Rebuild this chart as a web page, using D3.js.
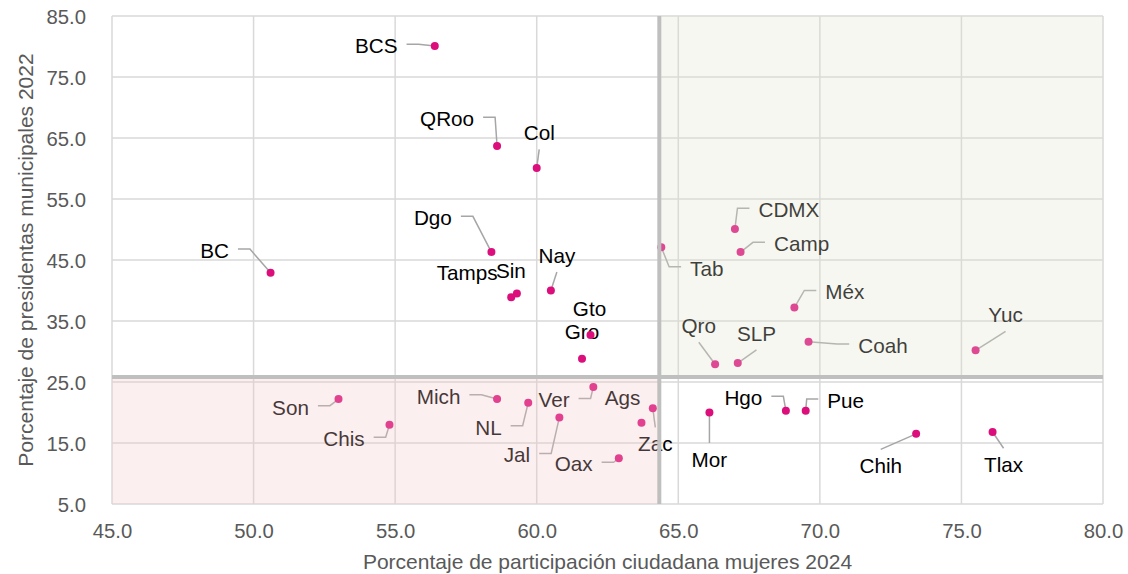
<!DOCTYPE html>
<html>
<head>
<meta charset="utf-8">
<script src="https://cdn.jsdelivr.net/npm/d3@7"></script>
<style>
  html, body { margin: 0; padding: 0; background: #ffffff; }
  svg { display: block; font-family: "Liberation Sans", Arial, sans-serif; }
</style>
</head>
<body>
<svg id="chart" width="1128" height="574"></svg>
<script>
// State abbreviations
const states = ["BCS","QRoo","Col","BC","Dgo","Tamps","Sin","Nay","Gto","Gro",
  "Tab","CDMX","Camp","Méx","Qro","SLP","Coah","Yuc","Son","Chis",
  "Mich","NL","Jal","Ver","Ags","Zac","Oax","Mor","Hgo","Pue","Chih","Tlax"];
// Women's turnout 2024 (%)
const participacion = [56.4,58.6,60.0,50.6,58.4,59.1,59.3,60.5,61.9,61.6,
  64.4,67.0,67.2,69.1,66.3,67.1,69.6,75.5,53.0,54.8,
  58.6,59.7,60.8,62.0,63.7,64.1,62.9,66.1,68.8,69.5,73.4,76.1];
// Share of women municipal presidents 2022 (%)
const presidentas = [80.1,63.7,60.1,42.9,46.3,38.9,39.5,40.0,32.7,28.8,
  47.1,50.1,46.3,37.2,27.9,28.1,31.6,30.2,22.2,18.0,
  22.2,21.6,19.2,24.2,18.3,20.7,12.5,20.0,20.3,20.3,16.5,16.8];
// Reference values dividing the quadrants
const refX = 64.33;
const refY = 25.8;
const xTicks = [45,50,55,60,65,70,75,80];
const yTicks = [5,15,25,35,45,55,65,75,85];

// Label placement: offset of label centre from its point (px) and leader style
const labelLayout = {
  "BCS":[-58.5,0,"h"], "QRoo":[-50,-27,"h"], "Col":[2.5,-35,"v"], "BC":[-56,-22,"h"],
  "Dgo":[-58.5,-34,"h"], "Tamps":[-44,-24,null], "Sin":[-6,-22.6,null], "Nay":[6,-35,"v"],
  "Gto":[-1,-26,null], "Gro":[0,-27,null], "Tab":[45.5,21.3,"h"], "CDMX":[54,-19,"h"],
  "Camp":[61,-8,"h"], "Méx":[50.5,-15.4,"h"], "Qro":[-16.3,-38.6,"v"], "SLP":[18.7,-29.7,"v"],
  "Coah":[74.4,4,"h"], "Yuc":[30,-35.3,"v"], "Son":[-48,8.3,"h"], "Chis":[-45.5,14.3,"h"],
  "Mich":[-58.5,-2.6,"h"], "NL":[-39.8,24.6,"h"], "Jal":[-42.4,37.7,"h"], "Ver":[-39.3,13.3,"h"],
  "Ags":[-19,-25.4,null], "Zac":[2.5,35.7,"v"], "Oax":[-45.2,5.7,"h"], "Mor":[0,47,"v"],
  "Hgo":[-42.5,-12.7,"h"], "Pue":[40,-10,"h"], "Chih":[-35.4,32,"v"], "Tlax":[11,32.7,"v"]
};

const data = states.map((s, i) => ({ name: s, x: participacion[i], y: presidentas[i] }));

const svg = d3.select("#chart");
const plotL = 112, plotR = 1103, plotT = 16, plotB = 504;
const x = d3.scaleLinear().domain([45, 80]).range([plotL, plotR]);
const y = d3.scaleLinear().domain([5, 85]).range([plotB, plotT]);

const gridColor = "#d9d9d9";
const tickColor = "#595959";

// Gridlines (the outer ones form the plot frame)
svg.append("g").selectAll("line").data(xTicks).join("line")
  .attr("x1", d => x(d)).attr("x2", d => x(d))
  .attr("y1", plotT).attr("y2", plotB)
  .attr("stroke", gridColor).attr("stroke-width", 1.5);
svg.append("g").selectAll("line").data(yTicks).join("line")
  .attr("y1", d => y(d)).attr("y2", d => y(d))
  .attr("x1", plotL).attr("x2", plotR)
  .attr("stroke", gridColor).attr("stroke-width", 1.5);

// Tick labels via d3 axes (domain and tick marks hidden)
const xAxis = svg.append("g").attr("transform", `translate(0,${plotB})`)
  .call(d3.axisBottom(x).tickValues(xTicks).tickFormat(d3.format(".1f")).tickSize(0).tickPadding(20));
const yAxis = svg.append("g").attr("transform", `translate(${plotL},0)`)
  .call(d3.axisLeft(y).tickValues(yTicks).tickFormat(d3.format(".1f")).tickSize(0).tickPadding(26));
[xAxis, yAxis].forEach(a => {
  a.select(".domain").remove();
  a.selectAll("text").attr("fill", tickColor).style("font-size", "20.3px")
    .style("font-family", '"Liberation Sans", Arial, sans-serif');
});
yAxis.selectAll("text").attr("dy", "0.35em");

// Axis titles
svg.append("text")
  .attr("x", (plotL + plotR) / 2).attr("y", 562).attr("dy", "0.35em")
  .attr("text-anchor", "middle").attr("fill", tickColor).style("font-size", "21px")
  .text("Porcentaje de participación ciudadana mujeres 2024");
svg.append("text")
  .attr("transform", `translate(26,${(plotT + plotB) / 2}) rotate(-90)`)
  .attr("dy", "0.35em")
  .attr("text-anchor", "middle").attr("fill", tickColor).style("font-size", "21px")
  .text("Porcentaje de presidentas municipales 2022");

// Leaders, points and labels
const labelsG = svg.append("g");
const leadersG = svg.append("g");
const pointsG = svg.append("g");

data.forEach(d => {
  const px = x(d.x), py = y(d.y);
  const [dx, dy, kind] = labelLayout[d.name];
  const cx = px + dx, cy = py + dy;
  const t = labelsG.append("text")
    .attr("x", cx).attr("y", cy).attr("dy", "0.35em")
    .attr("text-anchor", "middle").attr("fill", "#000")
    .style("font-size", "20.7px").text(d.name);
  const w = t.node().getComputedTextLength();
  let pts = null;
  if (kind === "h") {
    const ly = cy - 1.7;
    if (dx < 0) {
      const sx = cx + w / 2 + 9;
      const ex = Math.min(sx + 12, px - 1);
      pts = [[sx, ly], [ex, ly], [px, py]];
    } else {
      const sx = cx - w / 2 - 9;
      const ex = Math.max(sx - 12, px + 1);
      pts = [[sx, ly], [ex, ly], [px, py]];
    }
  } else if (kind === "v") {
    const sy = dy < 0 ? cy + 16.5 : cy - 16.5;
    pts = [[cx, sy], [px, py]];
  }
  if (pts) {
    leadersG.append("path").attr("d", d3.line()(pts))
      .attr("fill", "none").attr("stroke", "#a6a6a6").attr("stroke-width", 1.5);
  }
});

pointsG.selectAll("circle").data(data).join("circle")
  .attr("cx", d => x(d.x)).attr("cy", d => y(d.y)).attr("r", 4)
  .attr("fill", "#dc0e7b");

// Quadrant tints laid over the marks
svg.append("rect")
  .attr("x", x(refX)).attr("y", plotT)
  .attr("width", plotR - x(refX)).attr("height", y(refY) - plotT)
  .attr("fill", "rgb(228,228,210)").attr("fill-opacity", 0.28);
svg.append("rect")
  .attr("x", plotL).attr("y", y(refY))
  .attr("width", x(refX) - plotL).attr("height", plotB - y(refY))
  .attr("fill", "rgb(244,198,198)").attr("fill-opacity", 0.28);

// Reference lines
svg.append("line")
  .attr("x1", x(refX)).attr("x2", x(refX)).attr("y1", plotT).attr("y2", plotB)
  .attr("stroke", "#bfbfbf").attr("stroke-width", 4);
svg.append("line")
  .attr("x1", plotL).attr("x2", plotR).attr("y1", y(refY)).attr("y2", y(refY))
  .attr("stroke", "#bfbfbf").attr("stroke-width", 4);
</script>
</body>
</html>
